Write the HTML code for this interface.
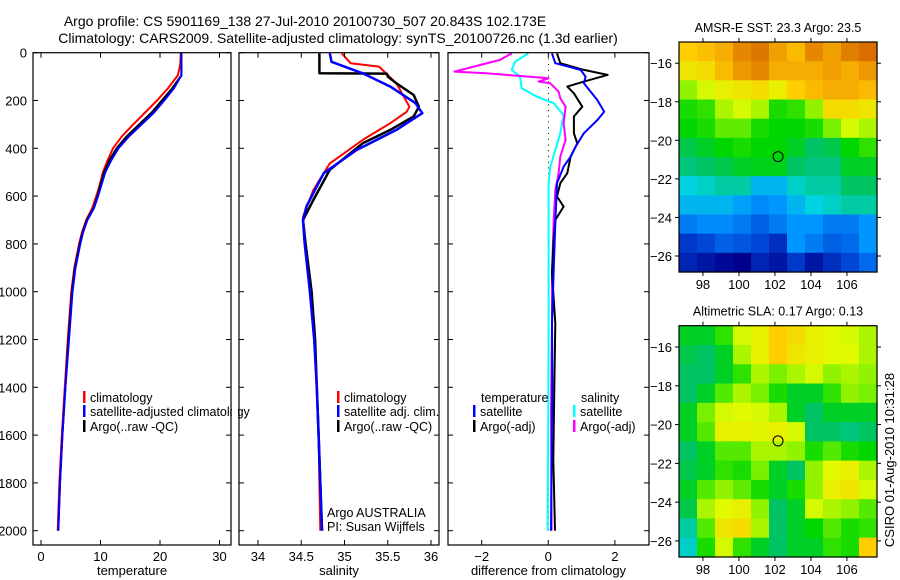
<!DOCTYPE html>
<html><head><meta charset="utf-8"><style>
body{margin:0;background:#fff;}
svg{display:block;font-family:"Liberation Sans",sans-serif;}
</style></head><body>
<svg id="fig" width="900" height="580" viewBox="0 0 900 580">
<text x="305" y="26" font-size="14" text-anchor="middle">Argo profile: CS 5901169_138 27-Jul-2010 20100730_507 20.843S 102.173E</text>
<text x="338" y="43" font-size="14" text-anchor="middle">Climatology: CARS2009. Satellite-adjusted climatology: synTS_20100726.nc (1.3d earlier)</text>
<text x="894" y="460" font-size="13" text-anchor="middle" transform="rotate(-90 894 460)">CSIRO 01-Aug-2010 10:31:28</text>
</svg>
<script>
// ---- data ----
const depthTicks=[0,200,400,600,800,1000,1200,1400,1600,1800,2000];
const tempTicks=[0,10,20,30];
const salTicks=[34,34.5,35,35.5,36];
const diffTicks=[-2,0,2];
const tDepth=[0,50,95,150,200,250,300,350,400,450,500,550,600,650,700,750,800,900,1000,1200,1400,1600,1800,2000];
const tArgo=[23.6,23.6,23.6,22.0,20.3,18.6,16.5,14.4,12.7,11.5,10.6,10.0,9.5,8.8,7.7,7.0,6.5,5.7,5.2,4.6,4.1,3.6,3.2,2.9];
const tClim=[23.5,23.4,23.0,21.3,19.5,17.5,15.5,13.6,12.1,11.2,10.4,9.9,9.3,8.6,7.6,6.9,6.4,5.6,5.1,4.5,4.0,3.5,3.1,2.8];
const tSat=[23.6,23.6,23.6,22.3,20.7,19.0,16.9,14.8,13.0,11.8,10.8,10.2,9.6,8.9,7.8,7.1,6.6,5.8,5.3,4.7,4.1,3.6,3.2,2.9];
const sClimD=[3,44,58,128,226,247,295,365,463,574,686,800,1000,1200,1400,1600,1800,2000];
const sClim=[34.97,35.07,35.40,35.60,35.75,35.72,35.53,35.21,34.83,34.64,34.52,34.54,34.60,34.65,34.68,34.70,34.71,34.72];
const sSatD=[3,38,86,142,211,253,323,407,504,644,700,800,1000,1200,1400,1600,1800,2000];
const sSat=[34.83,34.85,35.21,35.53,35.82,35.90,35.60,35.14,34.76,34.56,34.52,34.54,34.60,34.65,34.68,34.70,34.72,34.74];
const sArgoD=[3,86,88,100,128,177,226,267,323,379,490,616,700,800,1000,1200,1400,1600,1800,2000];
const sArgo=[34.71,34.71,35.49,35.50,35.60,35.80,35.86,35.80,35.53,35.21,34.83,34.64,34.52,34.55,34.62,34.66,34.68,34.70,34.72,34.74];
const dTD=[3,44,72,93,121,142,170,226,267,337,379,435,504,546,602,644,700,784,923,1132,1400,1700,2000];
const dTArgo=[0.26,0.36,1.07,1.78,1.07,0.57,0.77,1.02,0.77,0.77,0.87,0.67,0.57,0.36,0.26,0.46,0.21,0.16,0.11,0.21,0.18,0.15,0.2];
const dSD=[3,44,72,100,128,198,247,282,337,393,435,477,546,714,923,1132,1400,1700,2000];
const dTSat=[0.11,0.21,0.97,1.12,1.07,1.47,1.68,1.47,1.07,0.82,0.67,0.46,0.26,0.21,0.16,0.11,0.12,0.1,0.08];
const dCD=[3,38,72,100,149,184,211,261,337,407,477,546,784,1132,1500,2000];
const dSSat=[-0.6,-1.0,-1.1,-0.85,-0.8,-0.34,0.16,0.46,0.36,0.21,0.06,0.01,0.01,0.01,0.0,-0.02];
const dMD=[3,30,79,86,107,121,128,163,191,226,295,365,435,504,574,714,923,1132,1500,2000];
const dSArgo=[-1.1,-1.45,-2.82,-1.86,0.01,-0.29,0.06,0.31,0.36,0.52,0.46,0.52,0.36,0.31,0.21,0.16,0.11,0.11,0.08,0.1];
const sstTitle="AMSR-E SST: 23.3 Argo: 23.5";
const slaTitle="Altimetric SLA: 0.17 Argo: 0.13";
const lonTicks=[98,100,102,104,106];
const latTicks=[-16,-18,-20,-22,-24,-26];
const argoLon=102.173, argoLat=-20.843;
const sstGrid=[
[0.85,0.87,0.9,0.95,0.97,0.92,0.88,0.95,0.92,0.96,0.98],
[0.8,0.82,0.88,0.93,0.95,0.9,0.9,0.9,0.92,0.9,0.93],
[0.7,0.75,0.78,0.8,0.82,0.78,0.85,0.88,0.9,0.9,0.88],
[0.6,0.62,0.72,0.75,0.72,0.6,0.62,0.7,0.82,0.82,0.8],
[0.58,0.6,0.66,0.66,0.6,0.58,0.58,0.6,0.68,0.75,0.72],
[0.52,0.55,0.58,0.6,0.58,0.58,0.55,0.5,0.52,0.58,0.62],
[0.48,0.5,0.52,0.55,0.56,0.56,0.5,0.48,0.48,0.55,0.55],
[0.4,0.42,0.45,0.45,0.35,0.35,0.42,0.45,0.45,0.5,0.5],
[0.35,0.35,0.35,0.32,0.28,0.3,0.35,0.4,0.42,0.45,0.45],
[0.25,0.28,0.28,0.25,0.2,0.25,0.3,0.3,0.25,0.25,0.3],
[0.12,0.15,0.2,0.18,0.15,0.1,0.3,0.25,0.2,0.22,0.3],
[0.08,0.05,0.02,0.0,0.08,0.05,0.12,0.05,0.1,0.15,0.22]];
const slaGrid=[
[0.55,0.55,0.62,0.75,0.78,0.85,0.82,0.78,0.76,0.75,0.72],
[0.52,0.5,0.55,0.72,0.78,0.85,0.8,0.78,0.76,0.76,0.72],
[0.5,0.5,0.55,0.62,0.72,0.68,0.72,0.75,0.7,0.72,0.7],
[0.5,0.55,0.65,0.72,0.68,0.6,0.55,0.55,0.62,0.7,0.68],
[0.55,0.68,0.75,0.76,0.75,0.72,0.55,0.5,0.55,0.55,0.55],
[0.55,0.65,0.78,0.78,0.77,0.78,0.75,0.5,0.5,0.48,0.5],
[0.5,0.55,0.65,0.65,0.72,0.72,0.7,0.6,0.65,0.6,0.58],
[0.52,0.55,0.62,0.6,0.68,0.55,0.5,0.7,0.76,0.78,0.72],
[0.55,0.65,0.7,0.66,0.6,0.55,0.6,0.7,0.78,0.8,0.75],
[0.52,0.72,0.76,0.78,0.7,0.5,0.55,0.75,0.72,0.7,0.65],
[0.45,0.65,0.8,0.82,0.72,0.5,0.55,0.58,0.65,0.6,0.62],
[0.42,0.6,0.75,0.62,0.55,0.5,0.55,0.55,0.62,0.6,0.85]];

const NS="http://www.w3.org/2000/svg";
const svg=document.getElementById('fig');
function mk(tag,attrs,parent){const e=document.createElementNS(NS,tag);for(const k in attrs)e.setAttribute(k,attrs[k]);(parent||svg).appendChild(e);return e;}
const TOP=52.7, BOT=545, DPX=0.239;
const yD=d=>TOP+d*DPX;

function panel(name){
  const g=mk('g',{});
  
  
  return g;
}
function frame(g,x0,x1,xs,xticks,labelFn,xlabel,yLabels){
  const r=mk('rect',{x:x0,y:TOP,width:x1-x0,height:BOT-TOP,fill:'none',stroke:'#000','stroke-width':1.2},g);
  
  
  for(const d of depthTicks){
    mk('line',{x1:x0,x2:x0+5,y1:yD(d),y2:yD(d),stroke:'#000'},g);
    mk('line',{x1:x1,x2:x1-5,y1:yD(d),y2:yD(d),stroke:'#000'},g);
    if(yLabels){const t=mk('text',{x:x0-6,y:yD(d)+5,'font-size':13,'text-anchor':'end'},g);t.textContent=d;
      
      }
  }
  for(const v of xticks){
    const X=xs(v);
    mk('line',{x1:X,x2:X,y1:TOP,y2:TOP+5,stroke:'#000'},g);
    mk('line',{x1:X,x2:X,y1:BOT,y2:BOT-5,stroke:'#000'},g);
    const t=mk('text',{x:X,y:BOT+16,'font-size':13,'text-anchor':'middle'},g);t.textContent=labelFn(v);
    
    
  }
  const xl=mk('text',{x:(x0+x1)/2,y:BOT+30,'font-size':13,'text-anchor':'middle'},g);xl.textContent=xlabel;
  
  
}
function line(g,xs,vals,depths,color,w,name){
  const pts=vals.map((v,i)=>xs(v).toFixed(1)+','+yD(depths[i]).toFixed(1)).join(' ');
  const p=mk('polyline',{points:pts,fill:'none',stroke:color,'stroke-width':w,'stroke-linejoin':'round'},g);
  
  
}
function legend(g,x,y,color,label){
  mk('rect',{x:x,y:y-11,width:2.5,height:12,fill:color},g);
  const t=mk('text',{x:x+7,y:y,'font-size':12.5},g);t.textContent=label;
  
  
}
// temperature panel
const xT=v=>41+v*5.95;
const g1=panel('temperature-panel');
line(g1,xT,tClim,tDepth,'#f00',2,'temp-climatology-line');
line(g1,xT,tArgo,tDepth,'#000',2,'temp-argo-line');
line(g1,xT,tSat,tDepth,'#00f',2,'temp-satellite-line');
frame(g1,33,231,xT,tempTicks,v=>v,'temperature',true);
legend(g1,83,402,'#f00','climatology');
legend(g1,83,416,'#00f','satellite-adjusted climatology');
legend(g1,83,431,'#000','Argo(..raw -QC)');
mk('rect',{x:232,y:395,width:6,height:40,fill:'#fff'},g1);
// salinity panel
const xS=v=>258+(v-34)*86.5;
const g2=panel('salinity-panel');
line(g2,xS,sClim,sClimD,'#f00',2,'sal-climatology-line');
line(g2,xS,sArgo,sArgoD,'#000',2.5,'sal-argo-line');
line(g2,xS,sSat,sSatD,'#00f',2.5,'sal-satellite-line');
frame(g2,239,439,xS,salTicks,v=>v,'salinity',false);
legend(g2,337,402,'#f00','climatology');
legend(g2,337,416,'#00f','satellite adj. clim.');
legend(g2,337,431,'#000','Argo(..raw -QC)');
let t=mk('text',{x:327,y:517,'font-size':12.5},g2);t.textContent='Argo AUSTRALIA';


t=mk('text',{x:327,y:531,'font-size':12.5},g2);t.textContent='PI: Susan Wijffels';


// difference panel
const xDf=v=>548.3+v*33.3;
const g3=panel('difference-panel');
for(let d=0;d<=2000;d+=24){mk('rect',{x:548,y:yD(d),width:1,height:1,fill:'#000'},g3);}
line(g3,xDf,dSSat,dCD,'#0ff',2,'diff-sal-satellite-line');
line(g3,xDf,dSArgo,dMD,'#f0f',2,'diff-sal-argo-line');
line(g3,xDf,dTArgo,dTD,'#000',2,'diff-temp-argo-line');
line(g3,xDf,dTSat,dSD,'#00f',2,'diff-temp-satellite-line');
frame(g3,448,649,xDf,diffTicks,v=>(v<0?'\u2212'+Math.abs(v):String(v)),'difference from climatology',false);
t=mk('text',{x:481,y:402,'font-size':12.5},g3);t.textContent='temperature';


t=mk('text',{x:581,y:402,'font-size':12.5},g3);t.textContent='salinity';


legend(g3,473,416,'#00f','satellite');
legend(g3,473,431,'#000','Argo(-adj)');
legend(g3,573,416,'#0ff','satellite');
legend(g3,573,431,'#f0f','Argo(-adj)');

// maps
const stops=[[0,[0,0,140]],[0.15,[0,70,215]],[0.3,[0,150,255]],[0.4,[0,210,225]],[0.5,[0,195,100]],[0.58,[0,215,0]],[0.68,[120,240,0]],[0.76,[225,250,0]],[0.85,[255,205,0]],[0.92,[240,160,0]],[1,[210,95,0]]];
function cmap(v){for(let i=1;i<stops.length;i++){if(v<=stops[i][0]){const a=stops[i-1],b=stops[i];const f=(v-a[0])/(b[0]-a[0]);const c=a[1].map((x,k)=>Math.round(x+(b[1][k]-x)*f));return 'rgb('+c+')';}}return 'rgb(210,95,0)';}
function map(grid,title,yTop,yBot,name){
  const g=mk('g',{});
  
  
  const x0=679,x1=877,lon0=96.67,lon1=107.67,lat0=-14.9,lat1=-26.83;
  const xL=v=>x0+(v-lon0)/(lon1-lon0)*(x1-x0);
  const yL=v=>yTop+(v-lat0)/(lat1-lat0)*(yBot-yTop);
  const rows=grid.length,cols=grid[0].length,cw=(x1-x0)/cols,ch=(yBot-yTop)/rows;
  grid.forEach((r,i)=>r.forEach((v,j)=>{
    const c=mk('rect',{x:x0+j*cw,y:yTop+i*ch,width:cw+0.6,height:ch+0.6,fill:cmap(v)},g);
    
    
  }));
  mk('rect',{x:x0,y:yTop,width:x1-x0,height:yBot-yTop,fill:'none',stroke:'#000','stroke-width':1.2},g);
  for(const v of lonTicks){const X=xL(v);mk('line',{x1:X,x2:X,y1:yTop-4,y2:yTop,stroke:'#000'},g);mk('line',{x1:X,x2:X,y1:yBot,y2:yBot+4,stroke:'#000'},g);
    const tt=mk('text',{x:X,y:yBot+17,'font-size':13,'text-anchor':'middle'},g);tt.textContent=v;
    
    }
  for(const v of latTicks){const Y=yL(v);mk('line',{x1:x0-4,x2:x0,y1:Y,y2:Y,stroke:'#000'},g);mk('line',{x1:x1,x2:x1+4,y1:Y,y2:Y,stroke:'#000'},g);
    const tt=mk('text',{x:x0-7,y:Y+5,'font-size':13,'text-anchor':'end'},g);tt.textContent='\u2212'+Math.abs(v);
    
    }
  const c=mk('circle',{cx:xL(argoLon),cy:yL(argoLat),r:5,fill:'none',stroke:'#000','stroke-width':1},g);
  
  
  const tt=mk('text',{x:(x0+x1)/2,y:yTop-10,'font-size':12.5,'text-anchor':'middle'},g);tt.textContent=title;
  
  
}
map(sstGrid,sstTitle,42,272,'sst-map');
map(slaGrid,slaTitle,325.7,557,'sla-map');
</script>
</body></html>
